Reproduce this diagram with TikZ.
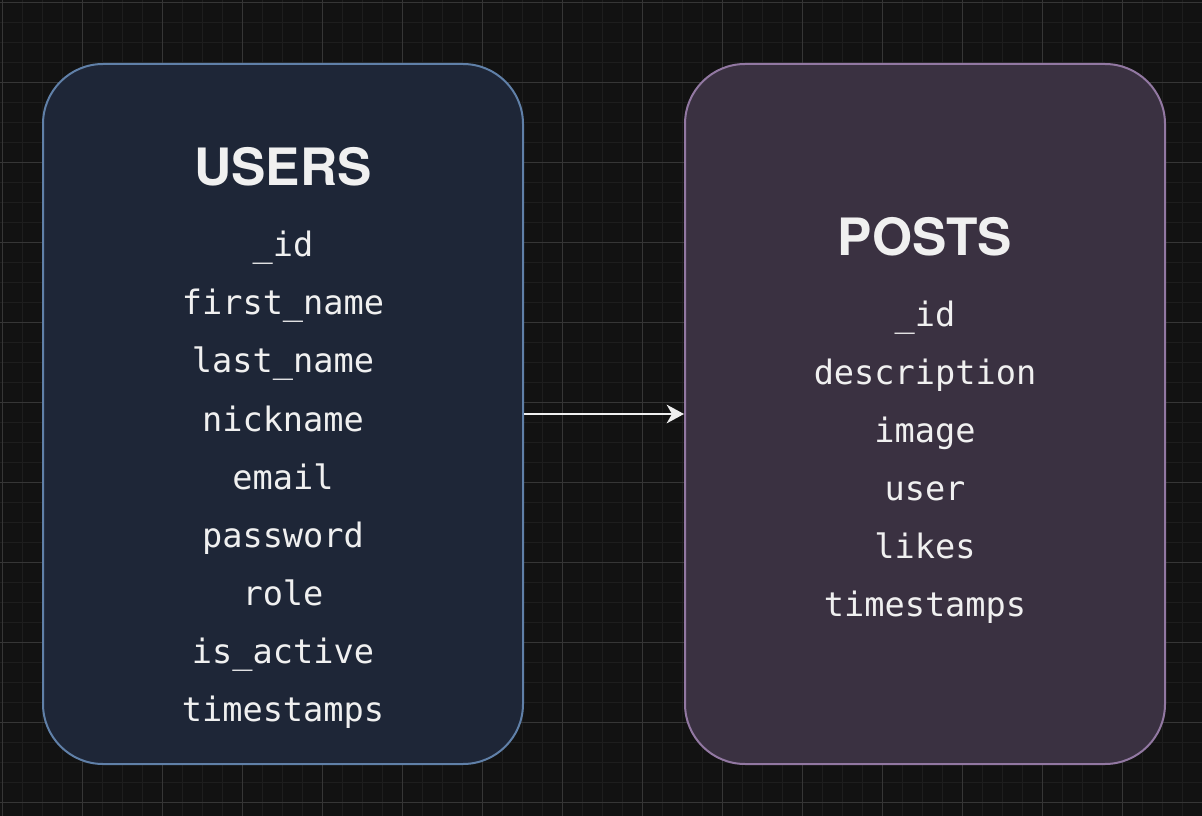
\documentclass[tikz,border=0pt]{standalone}
\usepackage{fontspec}
\setmainfont{TeX Gyre Heros}
\newfontfamily\fieldfont{DejaVu Sans Mono}
\usepackage{xcolor}
\usepackage{tikz}
\usetikzlibrary{arrows.meta,positioning,calc}
\definecolor{bgdark}{HTML}{121212}
\definecolor{gridminor}{HTML}{1E1E1E}
\definecolor{gridmajor}{HTML}{363636}
\definecolor{usersfill}{HTML}{1E2637}
\definecolor{usersline}{HTML}{6080A8}
\definecolor{postsfill}{HTML}{3A3141}
\definecolor{postsline}{HTML}{9278A2}
\definecolor{textlight}{HTML}{F0F0F0}

\begin{document}
\begin{tikzpicture}[x=0.75pt, y=-0.75pt,
    entity/.style={draw, line width=1.5pt, rounded corners=45pt,
        minimum width=360pt, minimum height=525pt, inner sep=0pt},
    title/.style={text=textlight, font=\fontsize{38.6}{44}\selectfont\bfseries},
    field/.style={text=textlight, font=\fieldfont\fontsize{25.2}{30}\selectfont, inner sep=0pt}]
    % Background and grid
    \fill[bgdark] (0,0) rectangle (1202,816);
    \useasboundingbox (0,0) rectangle (1202,816);
    \foreach \k in {0,...,60}
        \draw[gridminor, line width=0.75pt] (2.5+20*\k,0) -- (2.5+20*\k,816);
    \foreach \k in {0,...,40}
        \draw[gridminor, line width=0.75pt] (0,2.5+20*\k) -- (1202,2.5+20*\k);
    \foreach \k in {0,...,15}
        \draw[gridmajor, line width=0.75pt] (2.5+80*\k,0) -- (2.5+80*\k,816);
    \foreach \k in {0,...,10}
        \draw[gridmajor, line width=0.75pt] (0,2.5+80*\k) -- (1202,2.5+80*\k);
    % Entities
    \node[entity, draw=usersline, fill=usersfill] (users) at (283,414) {};
    \node[entity, draw=postsline, fill=postsfill] (posts) at (925,414) {};
    \node[title] (usersTitle) at (283,167) {USERS};
    \node[title] (postsTitle) at (925,237) {POSTS};
    % Fields
    \foreach \f [count=\i] in {\_id, first\_name, last\_name, nickname, email,
        password, role, is\_active, timestamps}
        \node[field] (usersField\i) at (283,249+58*\i-58) {\strut\f};
    \foreach \f [count=\i] in {\_id, description, image, user, likes, timestamps}
        \node[field] (postsField\i) at (925,319+57.8*\i-57.8) {\strut\f};
    % Relation
    \draw[-{Stealth[length=13pt, width=14pt, inset=4pt]}, textlight, line width=1.5pt]
        (users.east) -- (posts.west);
\end{tikzpicture}
\end{document}
